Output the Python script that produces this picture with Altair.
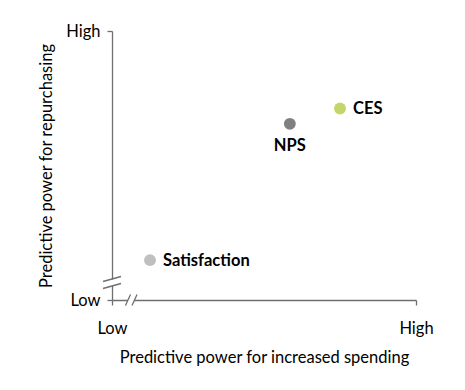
import altair as alt
import pandas as pd

names = ["Satisfaction", "NPS", "CES"]
spending = [0.125, 0.585, 0.75]
repurchasing = [0.148, 0.655, 0.712]
colors = ["#bfbfbf", "#808080", "#c3d66b"]
label_pos = ["right", "below", "right"]
tick_values = [0, 1]
tick_labels = ["Low", "High"]

df = pd.DataFrame({"name": names, "x": spending, "y": repurchasing,
                   "color": colors, "pos": label_pos})

FONT = "Lato"
FS = 16.5
AX = "#6f6f6f"
W, H = 304, 269

lab_expr = f"datum.value == 0 ? '{tick_labels[0]}' : '{tick_labels[1]}'"

xs = alt.Scale(domain=[0, 1], nice=False, zero=False)
ys = alt.Scale(domain=[0, 1], nice=False, zero=False)

base = alt.Chart(df)

points = base.mark_circle(size=140, opacity=1).encode(
    x=alt.X("x:Q", scale=xs, axis=alt.Axis(
        values=tick_values, labelExpr=lab_expr, grid=False,
        domainColor=AX, tickColor=AX, tickSize=5, domainWidth=1.3, tickWidth=1.3,
        labelFont=FONT, labelFontSize=FS, labelColor="#000000",
        labelBaseline="middle", labelPadding=23, labelFlush=False,
        title="Predictive power for increased spending",
        titleFont=FONT, titleFontSize=FS, titleFontWeight="normal", titleColor="#000000",
        titleBaseline="middle", titleY=57, titleX=W / 2)),
    y=alt.Y("y:Q", scale=ys, axis=alt.Axis(
        values=tick_values, labelExpr=lab_expr, grid=False,
        domainColor=AX, tickColor=AX, tickSize=5, domainWidth=1.3, tickWidth=1.3,
        labelFont=FONT, labelFontSize=FS, labelColor="#000000",
        labelPadding=7, labelFlush=False,
        title="Predictive power for repurchasing",
        titleFont=FONT, titleFontSize=FS, titleFontWeight="normal", titleColor="#000000",
        titleAngle=270, titleBaseline="middle", titleAlign="center",
        titleX=-66, titleY=H / 2)),
    color=alt.Color("color:N", scale=None),
)

lab_right = base.transform_filter(alt.datum.pos == "right").mark_text(
    align="left", baseline="middle", dx=13, dy=1, font=FONT, fontSize=FS,
    fontWeight="bold", color="#000000").encode(
    x=alt.X("x:Q", scale=xs), y=alt.Y("y:Q", scale=ys), text="name:N")

lab_below = base.transform_filter(alt.datum.pos == "below").mark_text(
    align="center", baseline="middle", dy=22, font=FONT, fontSize=FS,
    fontWeight="bold", color="#000000").encode(
    x=alt.X("x:Q", scale=xs), y=alt.Y("y:Q", scale=ys), text="name:N")

# axis break decorations
gap_y = alt.Chart(df.head(1)).mark_rule(color="white", strokeWidth=4).encode(
    x=alt.value(0), y=alt.value(248.5), y2=alt.value(254.5))
gap_x = alt.Chart(df.head(1)).mark_rule(color="white", strokeWidth=4).encode(
    y=alt.value(H), x=alt.value(16), x2=alt.value(22))
slash_style = dict(color=AX, strokeWidth=1.3)
s1 = alt.Chart(df.head(1)).mark_rule(**slash_style).encode(
    x=alt.value(-9), x2=alt.value(9), y=alt.value(250.5), y2=alt.value(245.5))
s2 = alt.Chart(df.head(1)).mark_rule(**slash_style).encode(
    x=alt.value(-9), x2=alt.value(9), y=alt.value(257.5), y2=alt.value(252.5))
s3 = alt.Chart(df.head(1)).mark_rule(**slash_style).encode(
    x=alt.value(13.5), x2=alt.value(18.5), y=alt.value(H + 5.5), y2=alt.value(H - 5.5))
s4 = alt.Chart(df.head(1)).mark_rule(**slash_style).encode(
    x=alt.value(20), x2=alt.value(25), y=alt.value(H + 5.5), y2=alt.value(H - 5.5))

chart = alt.layer(gap_y, gap_x, s1, s2, s3, s4, points, lab_right, lab_below).properties(
    width=W, height=H,
    background="white",
    autosize=alt.AutoSizeParams(type="none"),
    padding={"left": 104, "top": 23, "right": 41, "bottom": 82},
).configure_view(stroke=None, strokeWidth=0)

chart.save("out.html", embed_options={"renderer": "svg", "actions": False})
